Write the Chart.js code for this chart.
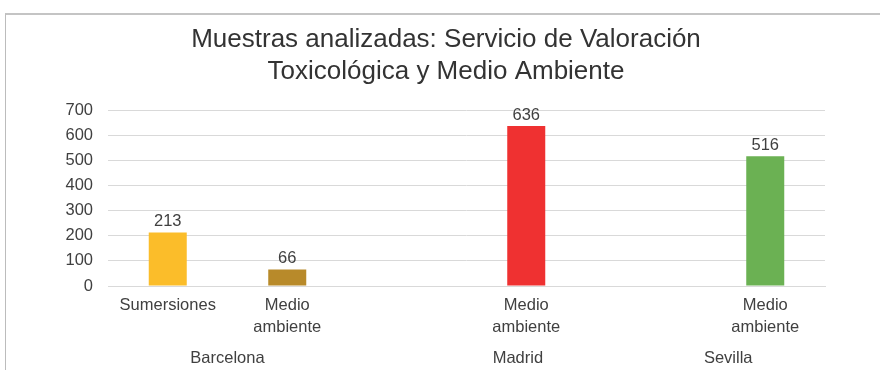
<!DOCTYPE html>
<html>
<head>
<meta charset="utf-8">
<script src="https://cdn.jsdelivr.net/npm/chart.js@4/dist/chart.umd.min.js"></script>
<style>
  html, body { margin: 0; padding: 0; background: #fff; }
  #wrap { position: relative; width: 880px; height: 370px; overflow: hidden; }
  #frame { position: absolute; left: 5px; top: 13px; width: 900px; height: 400px;
           border-left: 1px solid #bcbcbc; border-top: 2px solid #c4c4c4; }
  #chart { position: absolute; left: 0; top: 0; }
</style>
</head>
<body>
<div id="wrap">
  <div id="frame"></div>
  <canvas id="chart" width="880" height="370"></canvas>
</div>
<script>
// categorias (nivel inferior) y valores
const tipos = ['Sumersiones', ['Medio', 'ambiente'], '', ['Medio', 'ambiente'], '', ['Medio', 'ambiente']];
const muestras = [213, 66, null, 636, null, 516];
const colores = ['#FBBD2A', '#B88A2A', '#ffffff', '#EF3131', '#ffffff', '#6BB153'];

// ciudades (nivel superior) y su posicion en unidades de categoria
const ciudades = ['Barcelona', 'Madrid', 'Sevilla'];
const posCiudad = [0.5, 2.93, 4.69];

const ejeY = [0, 100, 200, 300, 400, 500, 600, 700];

const FUENTE = '"Liberation Sans", Arial, sans-serif';
const GRIS = '#404040';
const TAM = 16.5;

// etiquetas de valor encima de cada barra
const etiquetasValor = {
  id: 'etiquetasValor',
  afterDatasetsDraw(chart) {
    const ctx = chart.ctx;
    const meta = chart.getDatasetMeta(0);
    ctx.save();
    ctx.font = TAM + 'px ' + FUENTE;
    ctx.fillStyle = GRIS;
    ctx.textAlign = 'center';
    ctx.textBaseline = 'alphabetic';
    meta.data.forEach((bar, i) => {
      if (muestras[i] == null) return;
      ctx.fillText(String(muestras[i]), bar.x, bar.y - 6);
    });
    ctx.restore();
  }
};

// segundo nivel del eje X
const ejeCiudades = {
  id: 'ejeCiudades',
  afterDraw(chart) {
    const ctx = chart.ctx;
    const x = chart.scales.x;
    ctx.save();
    ctx.font = TAM + 'px ' + FUENTE;
    ctx.fillStyle = GRIS;
    ctx.textAlign = 'center';
    ctx.textBaseline = 'middle';
    ciudades.forEach((c, i) => {
      ctx.fillText(c, x.getPixelForValue(posCiudad[i]), chart.chartArea.bottom + 72);
    });
    ctx.restore();
  }
};

new Chart(document.getElementById('chart'), {
  type: 'bar',
  data: {
    labels: tipos,
    datasets: [{
      data: muestras,
      backgroundColor: colores,
      barPercentage: 0.318,
      categoryPercentage: 1
    }]
  },
  options: {
    responsive: false,
    animation: false,
    events: [],
    layout: { padding: { left: 12, right: 0, top: 0, bottom: 0 } },
    plugins: {
      legend: { display: false },
      tooltip: { enabled: false },
      title: {
        display: true,
        text: ['Muestras analizadas: Servicio de Valoración', 'Toxicológica y Medio Ambiente'],
        color: '#333333',
        font: { family: FUENTE, size: 26, weight: 'normal', lineHeight: '32px' },
        padding: { top: 24, bottom: 22 }
      }
    },
    scales: {
      x: {
        grid: { display: false, drawTicks: false },
        border: { display: true, color: '#d9d9d9', width: 1 },
        ticks: {
          color: GRIS,
          font: { family: FUENTE, size: TAM, lineHeight: '22px' },
          padding: 8,
          maxRotation: 0,
          autoSkip: false
        },
        afterFit(s) { s.height = 84; }
      },
      y: {
        min: 0,
        max: 700,
        afterBuildTicks(s) { s.ticks = ejeY.map(v => ({ value: v })); },
        grid: { color: '#d9d9d9', lineWidth: 1, drawTicks: false },
        border: { display: false },
        ticks: {
          color: GRIS,
          font: { family: FUENTE, size: TAM },
          padding: 15
        },
        afterFit(s) { s.width = 96; }
      },
      // margen derecho vacio
      y2: {
        position: 'right',
        grid: { display: false, drawTicks: false },
        border: { display: false },
        ticks: { display: false },
        afterFit(s) { s.width = 55; }
      }
    }
  },
  plugins: [etiquetasValor, ejeCiudades]
});
</script>
</body>
</html>
